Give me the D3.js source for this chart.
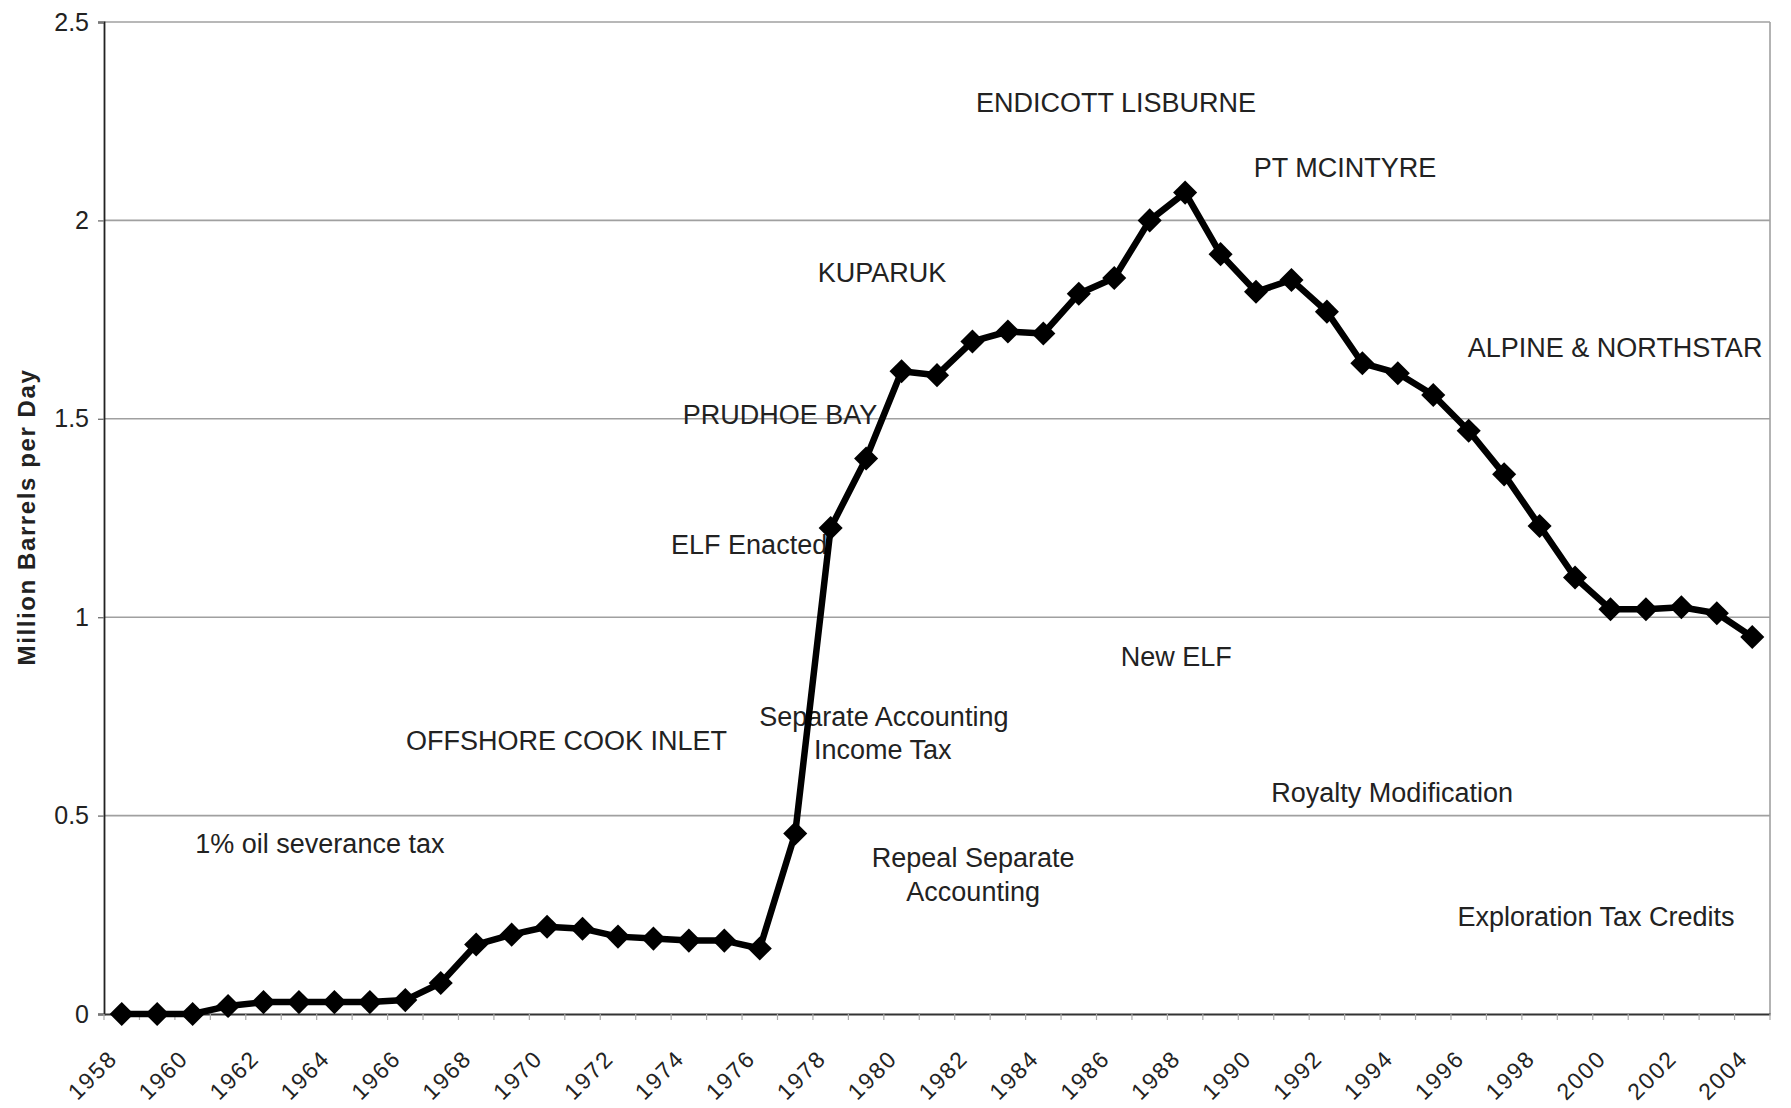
<!DOCTYPE html>
<html>
<head>
<meta charset="utf-8">
<script src="https://cdn.jsdelivr.net/npm/d3@7"></script>
<style>
  html, body { margin: 0; padding: 0; background: #fff; }
  svg { display: block; font-family: "Liberation Sans", Arial, sans-serif; }
</style>
</head>
<body>
<svg id="chart" width="1791" height="1108"></svg>
<script>
// ---- data ----
const years = [1958,1959,1960,1961,1962,1963,1964,1965,1966,1967,
  1968,1969,1970,1971,1972,1973,1974,1975,1976,1977,
  1978,1979,1980,1981,1982,1983,1984,1985,1986,1987,
  1988,1989,1990,1991,1992,1993,1994,1995,1996,1997,
  1998,1999,2000,2001,2002,2003,2004];
const production = [0,0,0,0.02,0.03,0.03,0.03,0.03,0.035,0.078,
  0.175,0.2,0.22,0.215,0.195,0.19,0.185,0.185,0.165,0.455,
  1.225,1.40,1.62,1.61,1.695,1.72,1.715,1.815,1.855,2.0,
  2.07,1.915,1.82,1.85,1.77,1.64,1.615,1.56,1.47,1.36,
  1.23,1.10,1.02,1.02,1.025,1.01,0.95];
const xTickLabels = [1958,1960,1962,1964,1966,1968,1970,1972,1974,1976,1978,1980,
  1982,1984,1986,1988,1990,1992,1994,1996,1998,2000,2002,2004];
const yTickValues = [0,0.5,1,1.5,2,2.5];
const yAxisTitle = "Million Barrels per Day";

// annotations: text, anchored at (year, value) in data space
const annoText = ["ENDICOTT LISBURNE","PT MCINTYRE","KUPARUK","ALPINE & NORTHSTAR",
  "PRUDHOE BAY","ELF Enacted","New ELF","Separate Accounting","Income Tax",
  "OFFSHORE COOK INLET","Royalty Modification","1% oil severance tax",
  "Repeal Separate","Accounting","Exploration Tax Credits"];
const annoYear = [1986.05,1992.51,1979.45,2000.13,
  1976.57,1975.7,1987.75,1979.5,1979.47,
  1970.55,1993.84,1963.59,
  1982.02,1982.02,1999.59];
const annoValue = [2.273,2.109,1.845,1.656,
  1.487,1.159,0.877,0.726,0.643,
  0.665,0.534,0.406,
  0.370,0.285,0.222];

// ---- layout ----
const svg = d3.select("#chart");
const plotLeft = 104, plotRight = 1770, plotTop = 22, plotBottom = 1014;

const x = d3.scaleBand().domain(years).range([plotLeft, plotRight]).padding(0);
const bw = x.bandwidth();
const cx = d => x(d) + bw / 2;
const xYear = d3.scaleLinear().domain([years[0], years[years.length-1]])
  .range([cx(years[0]), cx(years[years.length-1])]);
const y = d3.scaleLinear().domain([0, 2.5]).range([plotBottom, plotTop]);

svg.append("rect").attr("width",1791).attr("height",1108).attr("fill","#fff");

// gridlines
svg.append("g").selectAll("line").data(yTickValues.filter(v => v > 0)).join("line")
  .attr("x1", plotLeft).attr("x2", plotRight)
  .attr("y1", d => y(d)).attr("y2", d => y(d))
  .attr("stroke", "#a0a0a0").attr("stroke-width", 1.6);
// right border
svg.append("line").attr("x1", plotRight).attr("x2", plotRight).attr("y1", plotTop).attr("y2", plotBottom)
  .attr("stroke", "#a0a0a0").attr("stroke-width", 1.6);

// y axis
const yAxis = svg.append("g").attr("transform", `translate(${plotLeft},0)`)
  .call(d3.axisLeft(y).tickValues(yTickValues).tickFormat(d3.format("~g")).tickSize(6).tickPadding(9));
yAxis.select(".domain").attr("stroke", "#222").attr("stroke-width", 1.8);
yAxis.selectAll(".tick line").attr("stroke", "#777").attr("stroke-width", 1.4);
yAxis.selectAll(".tick text").attr("font-size", 25).attr("fill", "#222")
  .attr("font-family", "'Liberation Sans', Arial, sans-serif");

// x axis baseline and category ticks
const xAxis = svg.append("g").attr("transform", `translate(0,${plotBottom})`)
  .call(d3.axisBottom(x).tickValues(xTickLabels).tickSize(0).tickPadding(0));
xAxis.select(".domain").attr("stroke", "#333").attr("stroke-width", 1.8);
xAxis.selectAll(".tick text")
  .attr("font-size", 23).attr("fill", "#222")
  .attr("font-family", "'Liberation Sans', Arial, sans-serif")
  .attr("text-anchor", "end")
  .attr("dy", 0).attr("y", 0)
  .attr("transform", `translate(-3,46) rotate(-45)`)
  .attr("letter-spacing", 1.8);
svg.append("g").selectAll("line").data(years.concat(["end"])).join("line")
  .attr("x1", d => d === "end" ? plotRight : x(d)).attr("x2", d => d === "end" ? plotRight : x(d))
  .attr("y1", plotBottom).attr("y2", plotBottom + 6)
  .attr("stroke", "#aaa").attr("stroke-width", 1.2);

// y axis title
svg.append("text")
  .attr("transform", `translate(35,${(plotTop+plotBottom)/2 - 1}) rotate(-90)`)
  .attr("text-anchor", "middle")
  .attr("font-size", 24).attr("font-weight", "bold").attr("fill", "#222")
  .attr("letter-spacing", 1.6)
  .text(yAxisTitle);

// annotations
svg.append("g").selectAll("text").data(annoText).join("text")
  .attr("x", (d,i) => xYear(annoYear[i]))
  .attr("y", (d,i) => y(annoValue[i]))
  .attr("text-anchor", "middle")
  .attr("font-size", 27).attr("fill", "#222")
  .text(d => d);

// line
const line = d3.line().x((d,i) => cx(years[i])).y(d => y(d));
svg.append("path").datum(production)
  .attr("d", line)
  .attr("fill", "none").attr("stroke", "#000").attr("stroke-width", 6.5)
  .attr("stroke-linejoin", "round");

// diamond markers
const diamond = d3.symbol().type(d3.symbolSquare).size(290);
svg.append("g").selectAll("path").data(production).join("path")
  .attr("d", diamond)
  .attr("transform", (d,i) => `translate(${cx(years[i])},${y(d)}) rotate(45)`)
  .attr("fill", "#000");
</script>
</body>
</html>
